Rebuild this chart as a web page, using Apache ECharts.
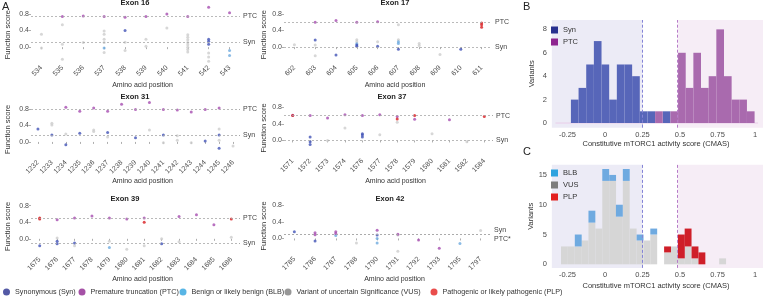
<!DOCTYPE html>
<html><head><meta charset="utf-8">
<script src="https://cdn.jsdelivr.net/npm/echarts@6/dist/echarts.min.js"></script>
<style>html,body{margin:0;padding:0;background:#fff}#c{width:768px;height:296px}</style>
</head><body><div id="c"></div>
<script>
// ---------------- Panel A data (amino acid position, function score) ----------------
const exon16Cats = ['534','535','536','537','538','539','540','541','542','543'];
const exon16Syn = [['538',0.40],['542',0.19],['542',0.14],['542',0.07]];
const exon16Ptc = [['535',0.74],['536',0.75],['537',0.74],['538',0.72],['539',0.74],['540',0.80],['541',0.74],['542',0.96],['543',0.83]];
const exon16Blb = [['537',-0.02],['543',-0.08],['543',-0.20]];
const exon16Vus = [['534',0.31],['534',-0.02],['535',0.54],['535',0.07],['535',-0.29],['536',0.11],['537',0.39],['537',0.31],['537',0.19],['537',0.11],['537',-0.13],['538',0.12],['538',-0.08],['539',0.19],['539',0.02],['540',0.46],['541',0.30],['541',0.24],['541',0.18],['541',0.11],['541',0.06],['541',0.0],['541',-0.06],['541',-0.12],['542',-0.14],['542',-0.24],['542',-0.34]];
const exon16Plp = [];
const exon16Lines = [['PTC',0.74],['Syn',0.12]];

const exon17Cats = ['602','603','604','605','606','607','608','609','610','611'];
const exon17Syn = [['603',0.17],['604',-0.19],['605',0.05],['605',0.02],['606',0.02],['607',-0.05],['610',-0.05]];
const exon17Ptc = [['603',0.60],['604',0.64],['605',0.60],['606',0.61]];
const exon17Blb = [['605',0.08],['607',0.13],['607',0.09]];
const exon17Vus = [['602',0.06],['603',0.05],['603',-0.21],['605',0.18],['605',0.13],['606',0.13],['607',0.54],['607',0.18],['608',0.09],['608',0.04],['609',-0.18]];
const exon17Plp = [['611',0.58],['611',0.54],['611',0.48]];
const exon17Lines = [['PTC',0.60],['Syn',0.0]];

const exon31Cats = ['1232','1233','1234','1235','1236','1237','1238','1239','1240','1241','1242','1243','1244','1245','1246'];
const exon31Syn = [['1232',0.31],['1233',0.165],['1234',-0.07],['1235',0.21],['1237',0.23],['1239',0.10],['1241',0.165],['1244',0.02],['1245',0.165],['1245',-0.15]];
const exon31Ptc = [['1234',0.84],['1235',0.74],['1236',0.82],['1237',0.74],['1238',0.91],['1239',0.78],['1240',0.95],['1241',0.78],['1242',0.77],['1243',0.72],['1244',0.78],['1245',0.82]];
const exon31Blb = [];
const exon31Vus = [['1233',0.45],['1233',0.41],['1234',0.19],['1236',0.29],['1236',0.25],['1237',0.12],['1240',0.29],['1241',-0.02],['1242',0.15],['1242',0.04],['1243',-0.02],['1245',0.31],['1245',0.04],['1246',-0.10]];
const exon31Plp = [];
const exon31Lines = [['PTC',0.80],['Syn',0.165]];

const exon37Cats = ['1571','1572','1573','1574','1576','1577','1578','1579','1580','1581','1582','1584'];
const exon37Syn = [['1572',0.08],['1572',-0.03],['1572',-0.10],['1576',0.16],['1576',0.13],['1576',0.08]];
const exon37Ptc = [['1571',0.61],['1572',0.60],['1573',0.54],['1574',0.62],['1576',0.60],['1577',0.62],['1578',0.58],['1579',0.51],['1581',0.50]];
const exon37Blb = [];
const exon37Vus = [['1573',0.0],['1574',0.30],['1577',0.14],['1578',0.44],['1580',0.16],['1582',-0.03]];
const exon37Plp = [['1571',0.60],['1578',0.52],['1579',0.60],['1584',0.58]];
const exon37Lines = [['PTC',0.60],['Syn',0.0]];

const exon39Cats = ['1675','1676','1677','1678','1679','1680','1681','1682','1683','1684','1685','1686'];
const exon39Syn = [['1675',-0.17],['1676',-0.06],['1676',-0.12],['1677',-0.10],['1682',-0.12]];
const exon39Ptc = [['1676',0.46],['1677',0.50],['1678',0.55],['1679',0.50],['1680',0.48],['1681',0.50],['1683',0.54],['1684',0.58],['1685',0.34]];
const exon39Blb = [['1679',-0.21]];
const exon39Vus = [['1676',0.02],['1677',-0.17],['1679',-0.06],['1680',-0.25],['1681',-0.17],['1682',0.0],['1683',-0.07],['1686',0.04]];
const exon39Plp = [['1675',0.50],['1675',0.48],['1681',0.40],['1686',0.48]];
const exon39Lines = [['PTC',0.50],['Syn',-0.11]];

const exon42Cats = ['1785','1786','1787','1788','1790','1791','1792','1793','1795','1797'];
const exon42Syn = [['1785',0.16],['1786',-0.06],['1790',0.08]];
const exon42Ptc = [['1786',0.14],['1786',0.09],['1787',0.16],['1787',0.12],['1790',0.20],['1791',0.10],['1792',-0.04],['1793',-0.24]];
const exon42Blb = [['1787',0.07],['1790',0.0],['1790',-0.11],['1795',-0.12]];
const exon42Vus = [['1788',-0.11],['1791',0.08],['1791',-0.31],['1797',0.19]];
const exon42Plp = [];
const exon42Lines = [['Syn',0.10],['PTC*',0.09]];

const scoreTicks = [0, 0.4, 0.8];

// ---------------- Panel B data (CMAS histogram, Syn / PTC) ----------------
const bBinStarts = [-0.227,-0.176,-0.125,-0.074,-0.023,0.028,0.079,0.130,0.181,0.232,0.283,0.334,0.385,0.436,0.487,0.538,0.589,0.640,0.691,0.742,0.793,0.844,0.895,0.946];
const bBinWidth = 0.051;
const bSyn = [2,3,5,7,5,2,5,5,4,1,1,0,1,0,0,0,0,0,0,0,0,0,0,0];
const bPtc = [0,0,0,0,0,0,0,0,0,0,0,1,0,1,6,3,6,3,4,8,4,2,2,1];
const bYTicks = [0,2,4,6,8];

// ---------------- Panel C data (CMAS histogram, BLB / VUS / PLP) ----------------
const cBinStarts = [-0.293,-0.247,-0.201,-0.156,-0.110,-0.064,-0.018,0.028,0.073,0.119,0.165,0.211,0.257,0.302,0.348,0.394,0.440,0.486,0.531,0.577,0.623,0.669,0.715,0.761];
const cBinWidth = 0.0458;
const cVus = [3,3,3,4,7,6,14,14,8,14,6,4,4,5,0,2,3,1,3,1,0,0,0,1];
const cBlb = [0,0,2,0,2,0,2,1,2,2,0,1,0,1,0,0,0,0,0,0,0,0,0,0];
const cPlp = [0,0,0,0,0,0,0,0,0,0,0,0,0,0,0,1,0,4,3,2,2,0,0,0];
const cYTicks = [0,5,10,15];

const cmasTicks = [-0.25,0,0.25,0.5,0.75,1];
const cmasThresholds = [0.25, 0.485];
const cmasRange = [-0.373, 1.053];
const cmasShadeStart = -0.354;
const bBaseline = [[-0.33,0],[1.02,0]];

// ---------------- styling ----------------
const FONT = "'Liberation Sans', Arial, sans-serif";
const COL = {
  syn:'#4254b6', ptc:'#a64db0', blb:'#6eaadf', vus:'#cdcdcd', plp:'#d81e22',
  synLeg:'#28308f', ptcLeg:'#8e2590', blbLeg:'#2ea3df', vusLeg:'#7d7d7d', plpLeg:'#e3201f',
  synBar:'#5766b9', ptcBar:'#a96aae', blbBar:'#6faae0', vusBar:'#d6d6d6', plpBar:'#cf1f29',
  lav:'#ecebf6', pink:'#f6edf6', txt:'#4d4d4d'
};
const NAMES = {syn:'Synonymous (Syn)', ptc:'Premature truncation (PTC)', blb:'Benign or likely benign (BLB)', vus:'Variant of uncertain Significance (VUS)', plp:'Pathogenic or likely pathogenic (PLP)'};

const exons = [
  {title:'Exon 16', cats:exon16Cats, syn:exon16Syn, ptc:exon16Ptc, blb:exon16Blb, vus:exon16Vus, plp:exon16Plp, lines:exon16Lines},
  {title:'Exon 17', cats:exon17Cats, syn:exon17Syn, ptc:exon17Ptc, blb:exon17Blb, vus:exon17Vus, plp:exon17Plp, lines:exon17Lines},
  {title:'Exon 31', cats:exon31Cats, syn:exon31Syn, ptc:exon31Ptc, blb:exon31Blb, vus:exon31Vus, plp:exon31Plp, lines:exon31Lines},
  {title:'Exon 37', cats:exon37Cats, syn:exon37Syn, ptc:exon37Ptc, blb:exon37Blb, vus:exon37Vus, plp:exon37Plp, lines:exon37Lines},
  {title:'Exon 39', cats:exon39Cats, syn:exon39Syn, ptc:exon39Ptc, blb:exon39Blb, vus:exon39Vus, plp:exon39Plp, lines:exon39Lines},
  {title:'Exon 42', cats:exon42Cats, syn:exon42Syn, ptc:exon42Ptc, blb:exon42Blb, vus:exon42Vus, plp:exon42Plp, lines:exon42Lines}
];
const layout = [
  {left:31, top:5.7, width:209, height:58, tx:135, ty:-1, xGap:18, yGap:19, lblOff:[[0,0],[0,0]]},
  {left:284, top:5.7, width:208, height:58, tx:395, ty:-1, xGap:18, yGap:15, lblOff:[[0,0],[0,0]]},
  {left:31, top:100.5, width:209, height:58, tx:135, ty:93, xGap:19.5, yGap:19, lblOff:[[0,0],[0,0]]},
  {left:284, top:99, width:209, height:58, tx:392, ty:93, xGap:21, yGap:15, lblOff:[[0,0],[0,0]]},
  {left:31, top:197.4, width:209, height:58, tx:125, ty:195, xGap:20.5, yGap:19, lblOff:[[0,0],[0,0]]},
  {left:284, top:197, width:207, height:58, tx:390, ty:195, xGap:21, yGap:15, lblOff:[[0,-4],[0,4]]}
];

const grid = [], xAxis = [], yAxis = [], series = [], title = [];
exons.forEach((e, i) => {
  const L = layout[i];
  grid.push({left:L.left, top:L.top, width:L.width, height:L.height});
  title.push({text:e.title, left:L.tx, top:L.ty, textAlign:'center', padding:0,
    textStyle:{fontSize:7.5, fontWeight:'bold', color:'#222', fontFamily:FONT}});
  xAxis.push({type:'category', gridIndex:i, data:e.cats, boundaryGap:true,
    name:'Amino acid position', nameLocation:'middle', nameGap:L.xGap,
    nameTextStyle:{fontSize:7, color:'#333', fontFamily:FONT, padding:[0,0,0,14]},
    axisLine:{show:false}, axisTick:{show:true, alignWithLabel:true, length:2, lineStyle:{color:'#777', width:0.6}},
    axisLabel:{interval:0, rotate:45, fontSize:7, color:COL.txt, margin:3, fontFamily:FONT},
    splitLine:{show:false}});
  yAxis.push({type:'value', gridIndex:i, min:-0.4, max:1.0,
    name:'Function score', nameLocation:'middle', nameGap:L.yGap,
    nameTextStyle:{fontSize:7.5, color:'#333', fontFamily:FONT},
    axisLine:{show:false},
    axisTick:{show:true, length:2, customValues:scoreTicks, lineStyle:{color:'#777', width:0.6}},
    axisLabel:{customValues:scoreTicks, fontSize:7, color:COL.txt, margin:2, fontFamily:FONT, formatter:v=>v.toFixed(1)},
    splitLine:{show:false}});
  series.push({type:'scatter', xAxisIndex:i, yAxisIndex:i, data:[], silent:true, z:1,
    markLine:{silent:true, symbol:'none', animation:false,
      lineStyle:{type:[2,2], color:'#a8a8a8', width:0.8},
      label:{position:'end', fontSize:7, color:'#444', distance:3, fontFamily:FONT},
      data:e.lines.map((ln, k) => ({yAxis:ln[1], label:{formatter:ln[0], offset:L.lblOff[k]}}))}});
  ['vus','blb','syn','ptc','plp'].forEach(k => {
    series.push({type:'scatter', name:NAMES[k], xAxisIndex:i, yAxisIndex:i, data:e[k],
      symbolSize:3, itemStyle:{color:COL[k]}, z:3, animation:false});
  });
});

// Histogram grids
const gB = grid.length;
grid.push({left:549, top:20, width:214, height:107.7});
const gC = grid.length;
grid.push({left:549, top:164.8, width:214, height:103.1});
[[gB,-0.4,8.8,bYTicks,10,13],[gC,-0.6,16.7,cYTicks,13.6,11.5]].forEach(([g,mn,mx,ticks,xg,yg]) => {
  xAxis.push({type:'value', gridIndex:g, min:cmasRange[0], max:cmasRange[1],
    name:'Constitutive mTORC1 activity score (CMAS)', nameLocation:'middle', nameGap:xg,
    nameTextStyle:{fontSize:7.5, color:'#333', fontFamily:FONT},
    axisLine:{show:false}, splitLine:{show:false},
    axisTick:{show:true, length:2, customValues:cmasTicks, lineStyle:{color:'#777', width:0.6}},
    axisLabel:{customValues:cmasTicks, fontSize:7.5, color:COL.txt, margin:3, fontFamily:FONT}});
  yAxis.push({type:'value', gridIndex:g, min:mn, max:mx,
    name:'Variants', nameLocation:'middle', nameGap:yg,
    nameTextStyle:{fontSize:7.5, color:'#333', fontFamily:FONT},
    axisLine:{show:false}, splitLine:{show:false},
    axisTick:{show:true, length:2, customValues:ticks, lineStyle:{color:'#777', width:0.6}},
    axisLabel:{customValues:ticks, fontSize:7.5, color:COL.txt, margin:2, fontFamily:FONT}});
});

function histRender(params, api) {
  const x0 = api.value(0), x1 = api.value(1), y0 = api.value(2), y1 = api.value(3);
  if (!(y1 > y0)) return null;
  const p0 = api.coord([x0, y1]);
  const p1 = api.coord([x1, y0]);
  return {type:'rect', shape:{x:p0[0], y:p0[1], width:p1[0]-p0[0], height:p1[1]-p0[1]},
    style:{fill:api.visual('color')}};
}
function histSeries(name, g, starts, width, base, counts, color) {
  return {type:'custom', name, xAxisIndex:g, yAxisIndex:g, renderItem:histRender,
    encode:{x:[0,1], y:[2,3]}, itemStyle:{color}, z:3, animation:false,
    data:starts.map((s, i) => [s, s + width, base ? base[i] : 0, (base ? base[i] : 0) + counts[i]])};
}
function backgroundSeries(g) {
  return {type:'scatter', xAxisIndex:g, yAxisIndex:g, data:[], silent:true, z:1,
    markArea:{silent:true, animation:false, data:[
      [{xAxis:cmasShadeStart, itemStyle:{color:COL.lav}}, {xAxis:cmasThresholds[0]}],
      [{xAxis:cmasThresholds[1], itemStyle:{color:COL.pink}}, {xAxis:cmasRange[1]}]
    ]},
    markLine:{silent:true, symbol:'none', animation:false, label:{show:false},
      data:[
        {xAxis:cmasThresholds[0], lineStyle:{type:[3,2], color:'#8484d6', width:1}},
        {xAxis:cmasThresholds[1], lineStyle:{type:[3,2], color:'#b77cc9', width:1}}
      ]}};
}
series.push(backgroundSeries(gB));
series.push({type:'line', xAxisIndex:gB, yAxisIndex:gB, data:bBaseline, symbol:'none', silent:true,
  lineStyle:{color:'#e9cde9', width:1}, z:2, animation:false});
series.push(histSeries('Syn', gB, bBinStarts, bBinWidth, null, bSyn, COL.synBar));
series.push(histSeries('PTC', gB, bBinStarts, bBinWidth, null, bPtc, COL.ptcBar));
series.push(backgroundSeries(gC));
series.push(histSeries('VUS', gC, cBinStarts, cBinWidth, null, cVus, COL.vusBar));
series.push(histSeries('BLB', gC, cBinStarts, cBinWidth, cVus, cBlb, COL.blbBar));
series.push(histSeries('PLP', gC, cBinStarts, cBinWidth, cVus, cPlp, COL.plpBar));

// Panel letters
[['A',2,1],['B',523,1],['C',523,146]].forEach(([t,x,y]) => {
  title.push({text:t, left:x, top:y, padding:0, textStyle:{fontSize:11, fontWeight:'normal', color:'#222', fontFamily:FONT}});
});

const legTxt = {fontSize:7.2, color:'#333', fontFamily:FONT};
const legend = [
  {left:551, top:26, orient:'vertical', padding:0, itemGap:4, itemWidth:7, itemHeight:7, icon:'rect', textStyle:{fontSize:7.5, color:'#333', fontFamily:FONT},
    selectedMode:false, data:[{name:'Syn', itemStyle:{color:COL.synLeg}}, {name:'PTC', itemStyle:{color:COL.ptcLeg}}]},
  {left:551, top:169, orient:'vertical', padding:0, itemGap:4, itemWidth:7, itemHeight:7, icon:'rect', textStyle:{fontSize:7.5, color:'#333', fontFamily:FONT},
    selectedMode:false, data:[{name:'BLB', itemStyle:{color:COL.blbLeg}}, {name:'VUS', itemStyle:{color:COL.vusLeg}}, {name:'PLP', itemStyle:{color:COL.plpLeg}}]}
];
[['syn',3],['ptc',78.5],['blb',179.5],['vus',284.5],['plp',430.5]].forEach(([k,x]) => {
  legend.push({left:x, top:288.5, padding:0, itemWidth:7, itemHeight:7, icon:'circle', selectedMode:false,
    textStyle:legTxt, data:[{name:NAMES[k], itemStyle:{color:COL[k+'Leg']}}]});
});

const chart = echarts.init(document.getElementById('c'), null, {renderer:'canvas'});
chart.setOption({animation:false, backgroundColor:'#fff', textStyle:{fontFamily:FONT},
  title, grid, xAxis, yAxis, series, legend});
</script></body></html>
